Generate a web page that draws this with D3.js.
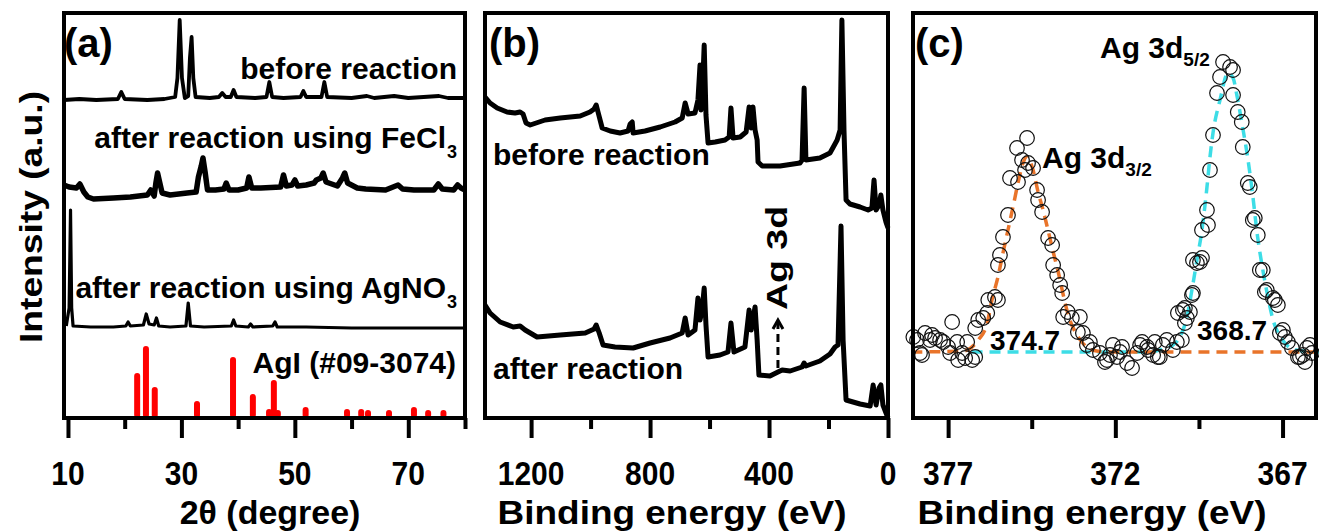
<!DOCTYPE html>
<html>
<head>
<meta charset="utf-8">
<script src="https://cdn.jsdelivr.net/npm/d3@7"></script>
<style>
  body { margin: 0; background: #fff; }
  text { font-family: "Liberation Sans", Arial, sans-serif; font-weight: bold; fill: #000; }
</style>
</head>
<body>
<div id="chart"></div>
<script>
var svgWidth = 1319;
var svgHeight = 531;
var frameTop = 13;
var frameBottom = 418;

// ---- panel (a): XRD, [2theta, intensity a.u.] ----
var xrdBefore = [[9.3,318],[12,319],[15,318],[18.8,319],[19.4,326],[20,319],[24,318],[27,319],[28.9,321],[29.3,340],[29.7,398],[30.1,340],[30.6,320],[31.2,322],[31.5,360],[31.8,381],[32.1,340],[32.5,321],[35,320],[36.6,321],[37.2,325],[37.8,321],[38.7,321],[39.2,328],[39.7,321],[43,320],[45.0,321],[45.5,336],[46.0,321],[48,320],[51.0,321],[51.5,327],[52.0,321],[54.7,321],[55.2,336],[55.7,321],[60,320],[62.7,322],[64,320],[67.5,322],[70,320],[75.4,322],[77,320],[80,320]];
var xrdFeCl3 = [[9.3,233],[10.2,231],[11.5,230],[12.1,234],[12.8,226],[13.5,221],[14.5,219],[18,220],[21,221],[24,223],[24.6,228],[25.2,222],[25.5,235],[25.8,245],[26.2,235],[26.6,225],[28,223],[31,225],[32.6,226],[33.0,241],[33.5,252],[33.8,260],[34.2,245],[34.6,228],[36,228],[37.5,229],[37.9,235],[38.4,228],[40,228],[41.5,230],[41.9,241],[42.4,230],[44,230],[47.5,231],[48,243],[48.5,232],[49.5,233],[50.0,238],[50.5,232],[52,233],[53.4,235],[53.8,238],[54.6,240],[55.0,245],[55.5,236],[57.5,232],[58.4,240],[58.8,245],[59.3,235],[61,230],[62.5,229],[66,228],[68.2,233],[69,229],[71,228],[74.5,228],[75.3,234],[76,229],[78,228],[78.7,233],[79.3,230],[80,228]];
var xrdAgNO3 = [[9.7,92],[10.2,110],[10.45,208],[10.65,110],[10.9,92],[14,91],[18,91],[20.2,92],[20.6,96],[21.0,92],[23.3,93],[23.8,104],[24.3,94],[25.2,93],[25.6,100],[26.0,92],[28,91],[30.8,92],[31.2,115],[31.6,92],[34,91],[38.8,92],[39.2,98],[39.6,92],[41.8,91],[42.2,94],[42.6,91],[46.1,92],[46.5,96],[46.9,91],[52,91],[60,90],[70,90],[80,90]];
var agiCard = [[22.2,42],[23.75,69],[25.3,28],[32.75,14],[39.1,58],[42.6,21],[45.45,6],[46.3,35],[47.0,5],[51.9,8],[59.2,6],[61.7,6],[62.9,5],[66.6,5],[71.0,8],[73.5,5],[76.2,5]];
var xrdTicks = [10, 30, 50, 70];
var xrdMinor = [20, 40, 60, 80];

// ---- panel (b): XPS survey, [binding energy eV, intensity a.u.] ----
var xpsBefore = [[1355,321],[1338,315],[1314,310],[1281,306],[1254,305],[1237,306],[1227,304],[1217,295],[1203,293],[1153,298],[1102,300],[1035,302],[1002,306],[988,309],[981,313],[975,306],[961,290],[934,287],[901,285],[874,287],[867,294],[860,296],[857,285],[817,287],[766,291],[716,296],[692,300],[682,315],[672,304],[649,305],[639,318],[632,353],[629,308],[625,318],[618,373],[612,303],[605,275],[581,276],[548,278],[534,281],[528,310],[521,280],[497,281],[477,286],[467,311],[460,290],[454,311],[447,288],[440,278],[437,256],[423,252],[363,252],[296,255],[289,258],[282,330],[276,258],[229,260],[195,265],[182,272],[171,278],[161,288],[155,398],[148,288],[141,218],[128,214],[94,211],[67,208],[54,210],[47,238],[40,208],[30,213],[24,223],[17,208],[7,196],[0,190]];
var xpsAfter = [[1355,113],[1338,105],[1304,96],[1260,91],[1237,92],[1220,88],[1180,81],[1102,83],[1018,85],[988,89],[981,93],[971,85],[958,73],[918,71],[857,70],[800,75],[733,80],[692,85],[682,100],[672,83],[649,88],[639,120],[632,98],[625,108],[618,130],[612,93],[605,61],[565,63],[538,66],[528,95],[518,66],[481,71],[467,108],[460,88],[447,111],[440,78],[434,43],[397,42],[370,46],[356,48],[329,47],[289,51],[282,55],[276,52],[229,57],[195,64],[178,71],[168,73],[158,192],[151,78],[141,18],[94,14],[60,12],[50,33],[40,13],[30,30],[24,33],[17,13],[0,0]];
var xpsTicks = [1200, 800, 400, 0];
var xpsMinor = [1000, 600, 200];

// ---- panel (c): Ag 3d, [binding energy eV, intensity a.u.] ----
var ag3dData = [[378.04,81],[377.93,78],[377.84,65],[377.78,63],[377.69,85],[377.54,78],[377.48,83],[377.39,80],[377.24,78],[377.15,76],[377.00,71],[376.94,65],[376.88,96],[376.73,76],[376.70,58],[376.58,65],[376.49,60],[376.43,76],[376.28,58],[376.19,61],[376.19,90],[376.10,98],[375.95,100],[375.83,105],[375.80,118],[375.60,121],[375.51,118],[375.51,153],[375.45,163],[375.36,181],[375.21,203],[375.15,240],[374.94,270],[374.91,236],[374.79,258],[374.70,248],[374.64,280],[374.61,255],[374.46,250],[374.34,228],[374.31,218],[374.19,206],[374.01,180],[373.89,173],[373.86,153],[373.74,143],[373.65,133],[373.59,125],[373.56,101],[373.42,106],[373.30,100],[373.06,101],[373.12,86],[372.97,85],[372.85,73],[372.76,76],[372.67,68],[372.46,65],[372.31,56],[372.25,58],[372.16,63],[372.07,73],[371.95,61],[371.86,66],[371.80,71],[371.65,55],[371.50,50],[371.35,65],[371.26,73],[371.20,76],[371.05,71],[371.02,68],[370.87,63],[370.82,76],[370.73,61],[370.67,61],[370.58,73],[370.46,78],[370.28,68],[370.16,76],[370.13,105],[370.01,78],[369.98,108],[369.92,110],[369.86,100],[369.77,106],[369.92,95],[369.71,123],[369.68,125],[369.68,158],[369.56,155],[369.47,156],[369.41,160],[369.41,188],[369.26,208],[369.23,193],[369.17,248],[369.08,283],[368.96,325],[368.87,341],[368.78,356],[368.57,351],[368.48,348],[368.48,323],[368.34,306],[368.22,296],[368.19,271],[368.04,235],[367.98,231],[367.89,198],[367.83,200],[367.74,183],[367.68,148],[367.59,148],[367.53,126],[367.47,128],[367.29,120],[367.23,118],[367.14,113],[367.08,85],[366.99,88],[366.93,81],[366.84,76],[366.72,70],[366.54,61],[366.48,61],[366.39,63],[366.33,56],[366.27,70],[366.18,73],[366.12,65]];
var fit32 = [[378.1,66],[376.55,67],[376.1,78],[375.83,95],[375.69,118],[375.51,141],[375.36,165],[375.21,188],[375.06,211],[374.91,235],[374.76,255],[374.65,261],[374.46,248],[374.31,226],[374.16,208],[374.0,186],[373.85,165],[373.7,145],[373.55,122],[373.4,102],[373.2,86],[373.0,76],[372.7,68],[372.2,66],[365.9,66]];
var fit52 = [[376.3,66],[371.0,66],[370.67,68],[370.28,73],[370.07,81],[369.86,101],[369.71,128],[369.56,158],[369.41,188],[369.26,231],[369.17,261],[369.08,285],[368.87,318],[368.63,345],[368.48,340],[368.35,320],[368.2,292],[368.05,262],[367.9,225],[367.75,182],[367.6,150],[367.45,123],[367.3,100],[367.0,78],[366.6,68],[365.9,66]];
var ag3dTicks = [377, 372, 367];
var ag3dMinor = [374.5, 369.5];

var svg = d3.select("#chart")
  .append("svg")
  .attr("width", svgWidth)
  .attr("height", svgHeight);

var yScale = d3.scaleLinear().domain([0, 405]).range([frameBottom, frameTop]);

var xA = d3.scaleLinear().domain([9.3, 80]).range([64, 465]);
var xB = d3.scaleLinear().domain([1355, 0]).range([485, 888]);
var xC = d3.scaleLinear().domain([378.05, 366.0]).range([913, 1316]);

// text helper, sx/sy stretch the glyphs
function addText(parent, x, y, str, size, anchor, sy, rotate, sx) {
  var t = parent.append("text")
    .attr("transform", `translate(${x},${y}) scale(${sx || 1},${sy || 1})` + (rotate ? " rotate(-90)" : ""))
    .attr("text-anchor", anchor || "start")
    .style("font-size", size + "px")
    .text(str);
  return t;
}

function drawAxis(x, major, minor, title, titleX, titleSx) {
  var g = svg.append("g").attr("transform", `translate(0,${frameBottom})`);
  g.append("g")
    .call(d3.axisBottom(x).tickValues(major).tickSize(20).tickFormat(""))
    .call(s => s.select(".domain").remove());
  g.append("g")
    .call(d3.axisBottom(x).tickValues(minor).tickSize(11).tickFormat(""))
    .call(s => s.select(".domain").remove());
  g.selectAll(".tick line").attr("stroke", "#000").attr("stroke-width", 4);

  major.forEach(function(v) {
    addText(svg, x(v), 485, String(v), 30, "middle", 1.1);
  });
  return addText(svg, titleX, 524, title, 33, "middle", 1, false, titleSx);
}

function drawFrame(x) {
  var r = x.range();
  svg.append("rect")
    .attr("x", r[0]).attr("y", frameTop)
    .attr("width", r[1] - r[0]).attr("height", frameBottom - frameTop)
    .attr("fill", "none").attr("stroke", "#000").attr("stroke-width", 4);
}

function lineFor(x) {
  return d3.line().x(d => x(d[0])).y(d => yScale(d[1]));
}

// ---------- panel (a) ----------
var lineA = lineFor(xA);
[[xrdBefore, 3.8], [xrdFeCl3, 5.5], [xrdAgNO3, 3.2]].forEach(function(s) {
  svg.append("path")
    .datum(s[0])
    .attr("d", lineA)
    .attr("fill", "none")
    .attr("stroke", "#000")
    .attr("stroke-width", s[1])
    .attr("stroke-linejoin", "round");
});

svg.selectAll(".agi")
  .data(agiCard)
  .enter()
  .append("line")
  .classed("agi", true)
  .attr("x1", d => xA(d[0])).attr("x2", d => xA(d[0]))
  .attr("y1", yScale(0) - 3).attr("y2", d => yScale(d[1]))
  .attr("stroke", "#ff0000")
  .attr("stroke-width", 6)
  .attr("stroke-linecap", "round");

drawFrame(xA);
drawAxis(xA, xrdTicks, xrdMinor, "2\u03B8 (degree)", 270, 1.03);

addText(svg, 64, 57, "(a)", 40, "start");
addText(svg, 457, 79, "before reaction", 30, "end");
addText(svg, 446, 148, "after reaction using FeCl", 30, "end");
addText(svg, 457, 158, "3", 18, "end");
addText(svg, 446, 298, "after reaction using AgNO", 30, "end");
addText(svg, 457, 308, "3", 18, "end");
addText(svg, 456, 373, "AgI (#09-3074)", 30, "end");

addText(svg, 42, 217, "Intensity (a.u.)", 31, "middle", 1.2, true);

// ---------- panel (b) ----------
var lineB = lineFor(xB);
[xpsBefore, xpsAfter].forEach(function(s) {
  svg.append("path")
    .datum(s)
    .attr("d", lineB)
    .attr("fill", "none")
    .attr("stroke", "#000")
    .attr("stroke-width", 5)
    .attr("stroke-linejoin", "round");
});

// Ag 3d marker arrow
var ax = xB(370);
svg.append("line")
  .attr("x1", ax).attr("x2", ax)
  .attr("y1", yScale(50)).attr("y2", yScale(97))
  .attr("stroke", "#000").attr("stroke-width", 3)
  .attr("stroke-dasharray", "8,5");
svg.append("path")
  .attr("d", `M${ax - 5},${yScale(89)} L${ax},${yScale(98)} L${ax + 5},${yScale(89)}`)
  .attr("fill", "none").attr("stroke", "#000").attr("stroke-width", 3);
addText(svg, ax + 9, 310, "Ag 3d", 30, "start", 1.25, true);

drawFrame(xB);
drawAxis(xB, xpsTicks, xpsMinor, "Binding energy (eV)", 672, 1.12);

addText(svg, 489, 57, "(b)", 40, "start");
addText(svg, 493, 165, "before reaction", 30, "start");
addText(svg, 493, 379, "after reaction", 30, "start");

// ---------- panel (c) ----------
var lineC = lineFor(xC).curve(d3.curveMonotoneX);
svg.append("path")
  .datum(fit52)
  .attr("d", lineC)
  .attr("fill", "none")
  .attr("stroke", "#3ddde6")
  .attr("stroke-width", 3.5)
  .attr("stroke-dasharray", "11,7");
svg.append("path")
  .datum(fit32)
  .attr("d", lineC)
  .attr("fill", "none")
  .attr("stroke", "#e9742a")
  .attr("stroke-width", 3.5)
  .attr("stroke-dasharray", "11,7");

svg.selectAll(".pt")
  .data(ag3dData)
  .enter()
  .append("circle")
  .classed("pt", true)
  .attr("cx", d => xC(d[0]))
  .attr("cy", d => yScale(d[1]))
  .attr("r", 7.3)
  .attr("fill", "none")
  .attr("stroke", "#111")
  .attr("stroke-width", 1.2);

drawFrame(xC);
drawAxis(xC, ag3dTicks, ag3dMinor, "Binding energy (eV)", 1092, 1.12);

addText(svg, 915, 57, "(c)", 40, "start");
var l52 = addText(svg, 1100, 58, "Ag 3d", 30, "start");
l52.append("tspan").attr("dy", 8).style("font-size", "19px").text("5/2");
var l32 = addText(svg, 1042, 168, "Ag 3d", 30, "start");
l32.append("tspan").attr("dy", 8).style("font-size", "19px").text("3/2");
addText(svg, 990, 350, "374.7", 28, "start");
addText(svg, 1197, 340, "368.7", 28, "start");
</script>
</body>
</html>
